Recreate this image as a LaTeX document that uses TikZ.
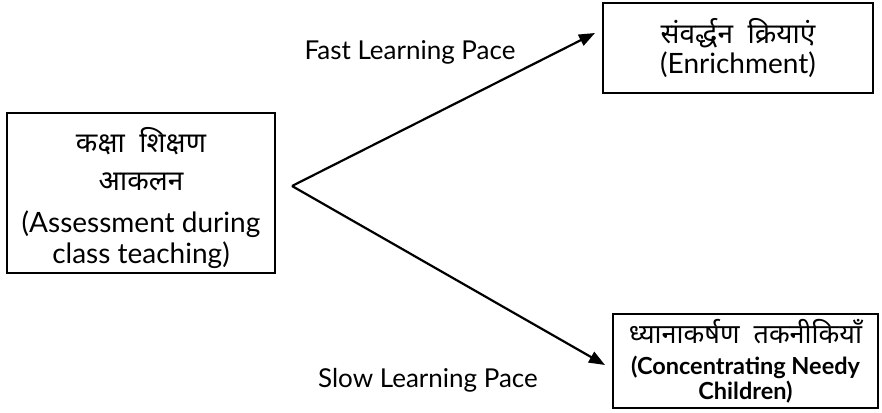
\documentclass[tikz,border=0pt]{standalone}
\usepackage{fontspec}
\setmainfont{Lato}
\newfontfamily\deva[Script=Devanagari]{Noto Sans}
\usetikzlibrary{arrows.meta}
\begin{document}
\begin{tikzpicture}[x=1pt,y=-1pt,
  box/.style={draw,line width=1.2pt,align=center,inner sep=0pt},
  arr/.style={line width=2.2pt,-{Triangle[length=16pt,width=12pt]}},
  lbl/.style={font=\fontsize{26}{30}\selectfont}]
\useasboundingbox (0,0) rectangle (882,412);
\node[box,minimum width=268pt,minimum height=160pt] (a) at (141,193) {};
\node[align=center,inner sep=0pt,font=\fontsize{28}{30}\selectfont] (at) at ([yshift=-5pt]a.center)
  {{\deva कक्षा\ \ शिक्षण}\\[8pt]{\deva आकलन}\\[12pt](Assessment during\\[1pt]class teaching)};
\node[box,minimum width=270pt,minimum height=90pt,font=\fontsize{28}{30}\selectfont] (b) at (738,48)
  {{\deva संवर्द्धन\ \ क्रियाएं}\\(Enrichment)};
\node[box,minimum width=265pt,minimum height=94pt,font=\fontsize{23.5}{25}\selectfont] (c) at (745.5,361)
  {{\deva\fontsize{27}{28}\selectfont ध्यानाकर्षण\ \ तकनीकियाँ}\\[6pt]\textbf{(Concentrating Needy}\\\textbf{Children)}};
\coordinate (o) at (292,186);
\coordinate (t1) at (595,33);
\coordinate (t2) at (605,365);
\draw[arr] (o) -- (t1);
\draw[arr] (o) -- (t2);
\node[lbl] (f) at (410,52) {Fast Learning Pace};
\node[lbl] (s) at (428,380) {Slow Learning Pace};
\end{tikzpicture}
\end{document}
